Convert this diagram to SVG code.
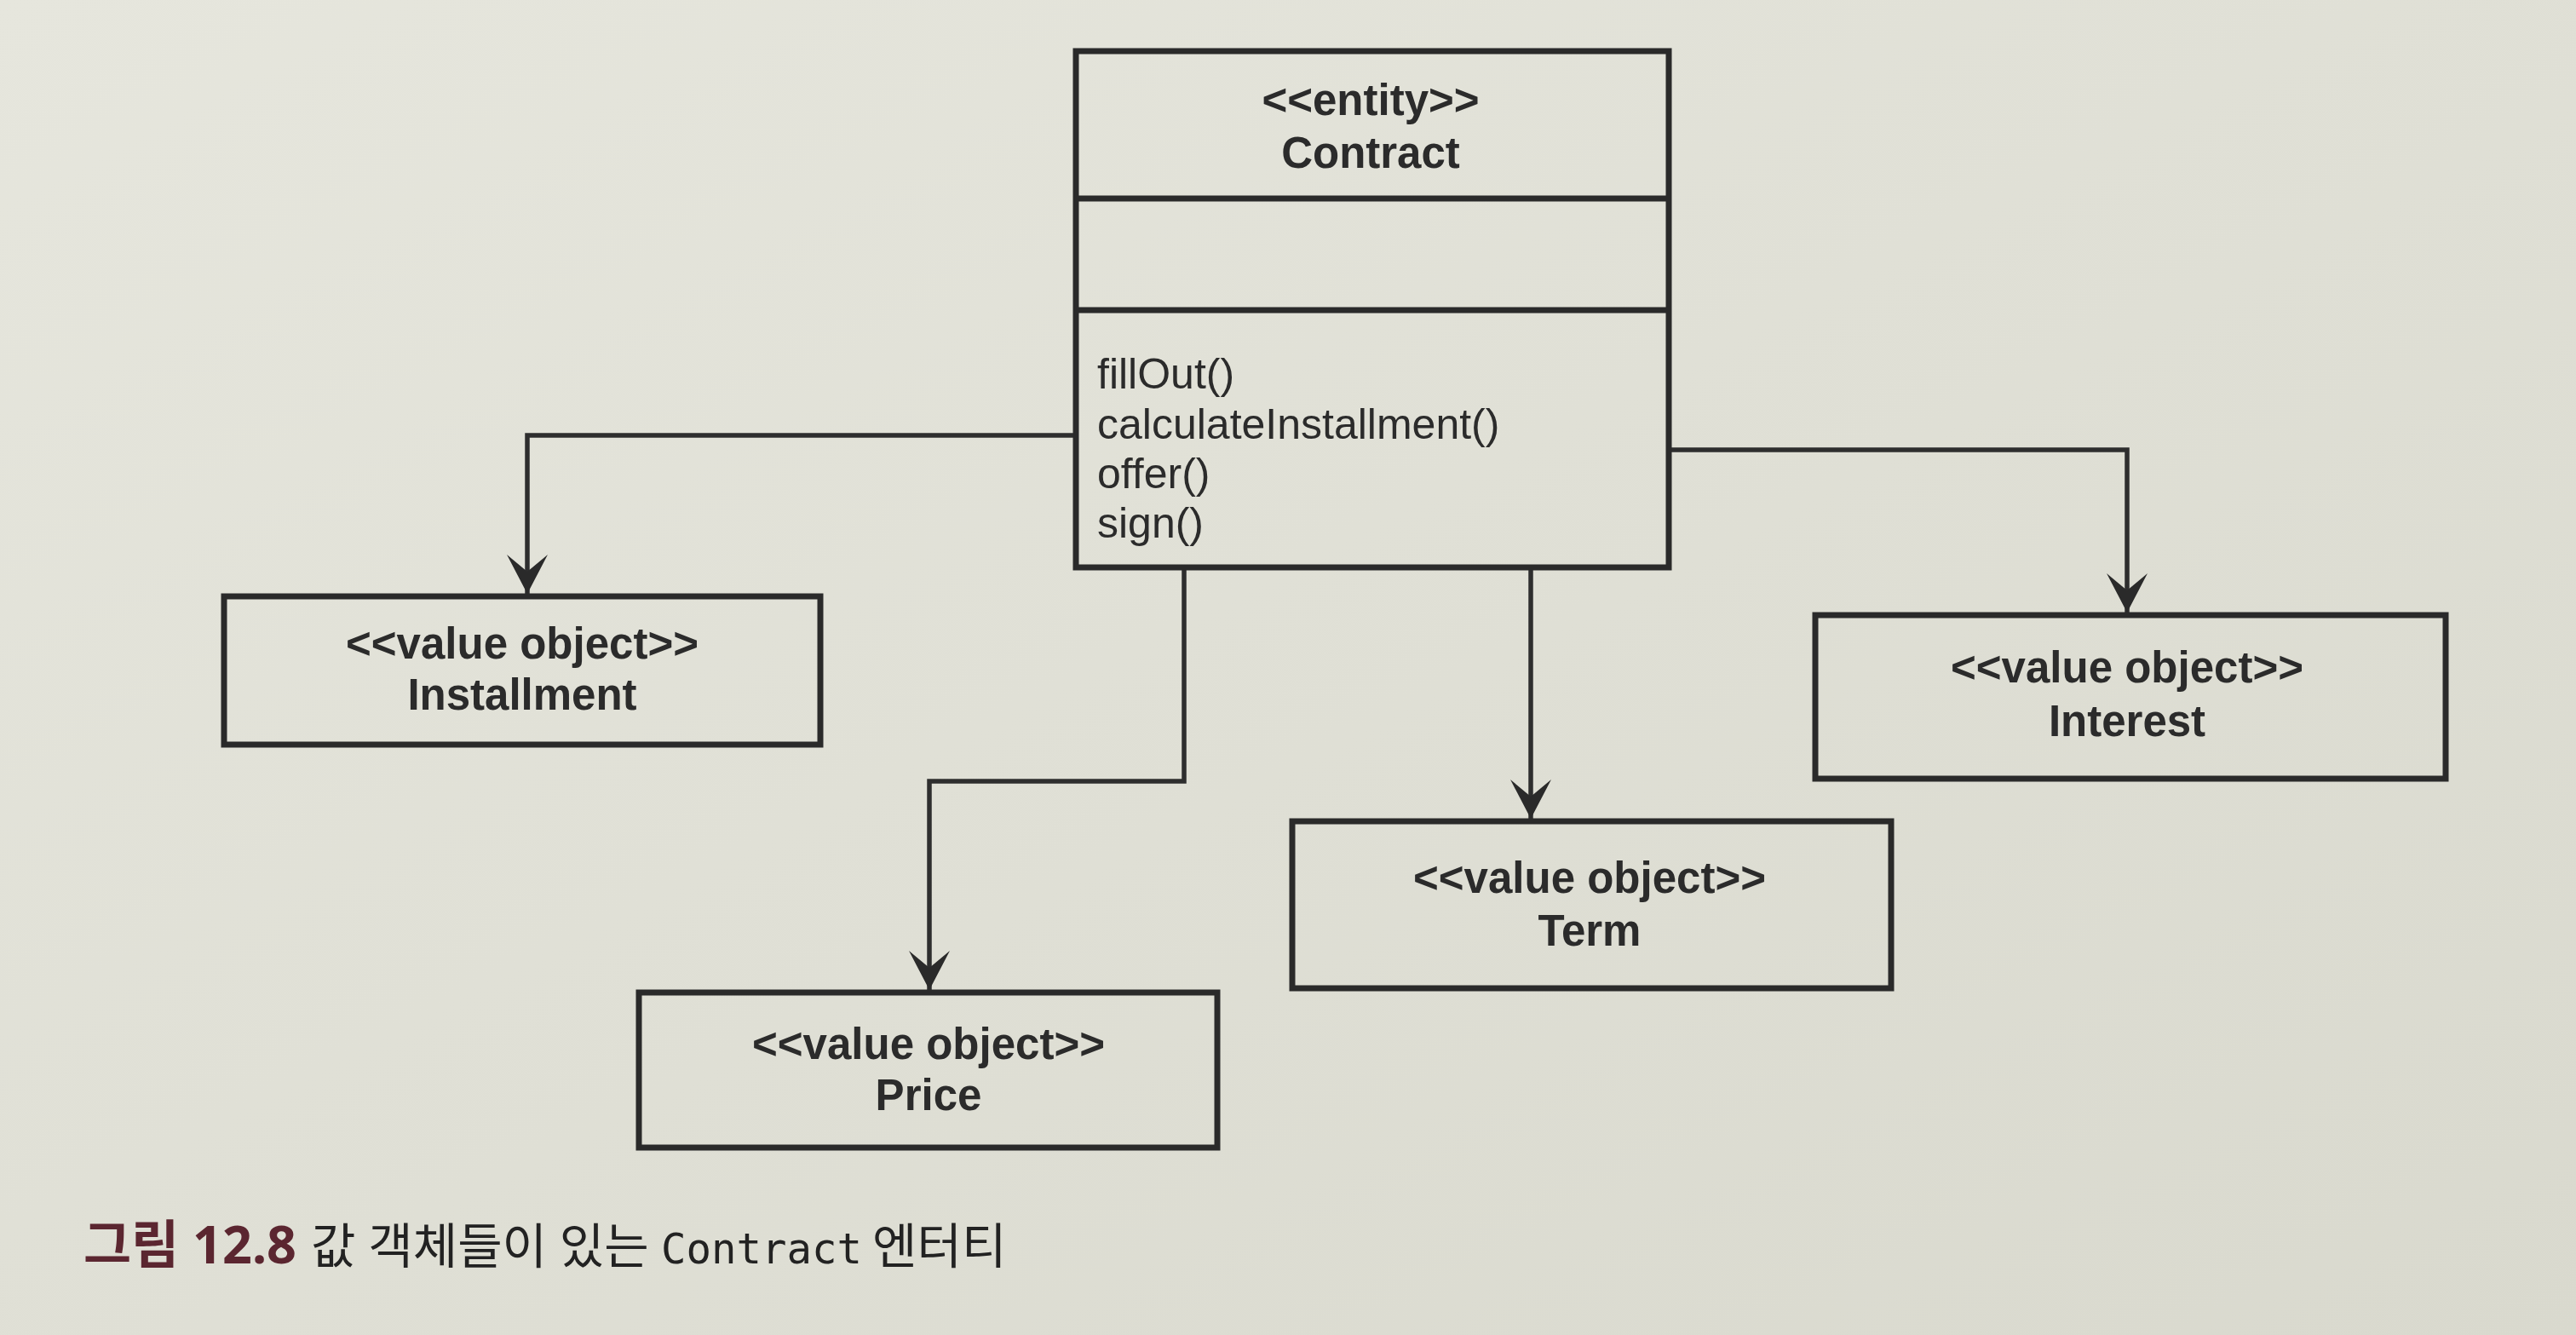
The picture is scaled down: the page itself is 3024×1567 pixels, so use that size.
<svg xmlns="http://www.w3.org/2000/svg" width="3024" height="1567" viewBox="0 0 3024 1567">
<style>
.box{fill:none;stroke:#2a2a2a;stroke-width:7}
.con{fill:none;stroke:#2e2e2e;stroke-width:5.5}
.st{font-family:"Liberation Sans",Arial,sans-serif;font-weight:bold;font-size:51px;fill:#2b2b2b;text-anchor:middle}
.m{font-family:"Liberation Sans",Arial,sans-serif;font-size:50px;fill:#2b2b2b}
.cap{font-family:"Noto Sans","Noto Sans CJK KR",sans-serif;font-size:57px;fill:#222}
</style>
<defs>
<linearGradient id="bg" x1="0" y1="0" x2="1" y2="1">
<stop offset="0" stop-color="#e6e6dd"/>
<stop offset="1" stop-color="#d9d9ce"/>
</linearGradient>
<marker id="arr" markerUnits="userSpaceOnUse" viewBox="-48 -26 50 52" refX="0" refY="0" markerWidth="50" markerHeight="52" orient="auto">
<path d="M0,0 L-46,-24 L-26,0 L-46,24 Z" fill="#2a2a2a"/>
</marker>
</defs>
<rect width="3024" height="1567" fill="url(#bg)"/>
<g id="connectors">
<path class="con" d="M1263,511 H619 V697" marker-end="url(#arr)"/>
<path class="con" d="M1390,666 V917 H1091 V1162" marker-end="url(#arr)"/>
<path class="con" d="M1797,666 V961" marker-end="url(#arr)"/>
<path class="con" d="M1959,528 H2497 V719" marker-end="url(#arr)"/>
</g>
<g id="contract">
<rect class="box" x="1263" y="60" width="696" height="606"/>
<line class="box" x1="1263" y1="233" x2="1959" y2="233"/>
<line class="box" x1="1263" y1="364" x2="1959" y2="364"/>
<text class="st" x="1609" y="135">&lt;&lt;entity&gt;&gt;</text>
<text class="st" x="1609" y="197">Contract</text>
<text class="m" x="1288" y="456">fillOut()</text>
<text class="m" x="1288" y="515">calculateInstallment()</text>
<text class="m" x="1288" y="573">offer()</text>
<text class="m" x="1288" y="631">sign()</text>
</g>
<g id="installment">
<rect class="box" x="263" y="700" width="700" height="174"/>
<text class="st" x="613" y="773">&lt;&lt;value object&gt;&gt;</text>
<text class="st" x="613" y="833">Installment</text>
</g>
<g id="price">
<rect class="box" x="750" y="1165" width="679" height="182"/>
<text class="st" x="1090" y="1243">&lt;&lt;value object&gt;&gt;</text>
<text class="st" x="1090" y="1303">Price</text>
</g>
<g id="term">
<rect class="box" x="1517" y="964" width="703" height="196"/>
<text class="st" x="1866" y="1048">&lt;&lt;value object&gt;&gt;</text>
<text class="st" x="1866" y="1110">Term</text>
</g>
<g id="interest">
<rect class="box" x="2131" y="722" width="740" height="192"/>
<text class="st" x="2497" y="801">&lt;&lt;value object&gt;&gt;</text>
<text class="st" x="2497" y="864">Interest</text>
</g>
<g id="caption">
<text class="cap" y="1483"><tspan x="98" font-weight="bold" font-size="61" fill="#5b2630">그림 12.8</tspan><tspan x="365">값 객체들이 있는</tspan><tspan x="776" font-family="'DejaVu Sans Mono','Liberation Mono',monospace" font-size="49">Contract</tspan><tspan x="1024">엔터티</tspan></text>
</g>
</svg>
